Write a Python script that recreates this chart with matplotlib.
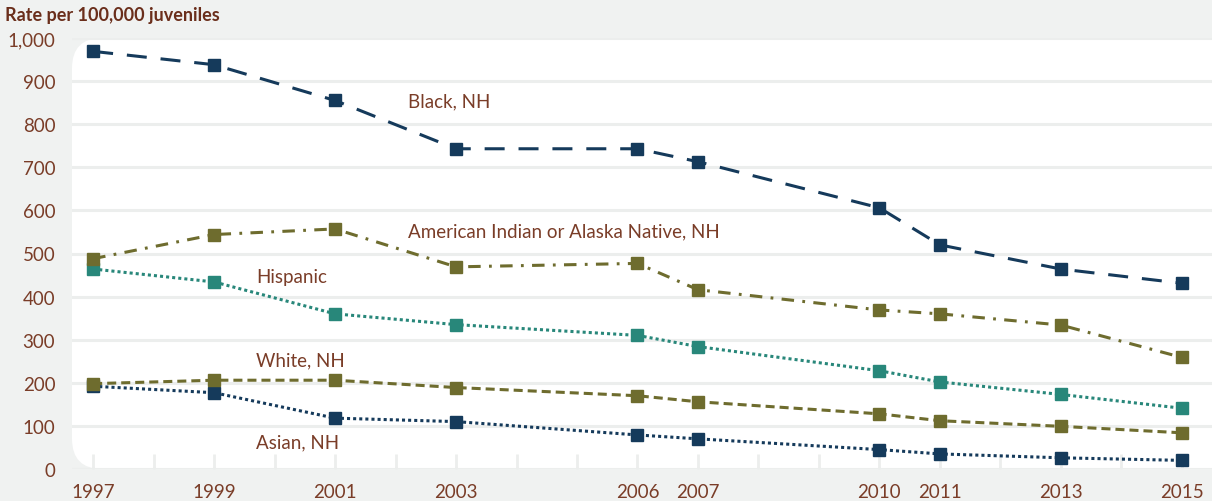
import matplotlib
matplotlib.use("Agg")
import matplotlib.pyplot as plt
from matplotlib.patches import FancyBboxPatch

years = [1997, 1999, 2001, 2003, 2006, 2007, 2010, 2011, 2013, 2015]
black = [969, 938, 855, 743, 743, 713, 606, 520, 464, 431]
aian = [488, 544, 557, 469, 477, 416, 369, 360, 334, 259]
hispanic = [464, 434, 360, 335, 310, 284, 228, 202, 173, 141]
white = [198, 206, 206, 189, 170, 156, 128, 112, 99, 84]
asian = [192, 177, 118, 110, 79, 70, 45, 35, 26, 20]

y_ticks = [0, 100, 200, 300, 400, 500, 600, 700, 800, 900, 1000]
y_ticklabels = ["0", "100", "200", "300", "400", "500", "600", "700", "800", "900", "1,000"]

labels = {
    "Black, NH": (2002.2, 855),
    "American Indian or Alaska Native, NH": (2002.2, 553),
    "Hispanic": (1999.7, 447),
    "White, NH": (1999.7, 254),
    "Asian, NH": (1999.7, 62),
}

NAVY = "#153a5b"
OLIVE = "#6e6c2e"
TEAL = "#28877a"
BROWN = "#7a3d28"
TITLE = "#6a2e1b"
BG = "#f0f2f1"
GRID = "#eceeed"

plt.rcParams["font.family"] = ["Lato", "DejaVu Sans"]
plt.rcParams["lines.scale_dashes"] = False

W, H = 1212, 502
fig = plt.figure(figsize=(W / 100, H / 100), dpi=100, facecolor=BG)

left, right, top, bottom = 72, 1212, 39, 470
ax = fig.add_axes([left / W, 1 - bottom / H, (right - left) / W, (bottom - top) / H])
ax.set_zorder(2)
ax.patch.set_visible(False)
for s in ax.spines.values():
    s.set_visible(False)

# rounded white plot background
bg = FancyBboxPatch((left / W, 1 - bottom / H), (right + 30 - left) / W, (bottom - top) / H,
                    boxstyle="round,pad=0,rounding_size=0.025", transform=fig.transFigure,
                    facecolor="white", edgecolor="none", zorder=0, mutation_aspect=W / H)
fig.patches.append(bg)

ax.set_xlim(1996.65, 2015.5)
ax.set_ylim(0, 1000)

ax.set_yticks(y_ticks)
ax.set_yticklabels(y_ticklabels)
ax.tick_params(axis="y", length=0, pad=12, labelsize=13.5, labelcolor=BROWN)
ax.yaxis.grid(True, color=GRID, linewidth=2.2)
ax.set_axisbelow(True)

all_years = list(range(1997, 2016))
ax.set_xticks(all_years)
ax.set_xticklabels([str(y) if y in years else "" for y in all_years])
ax.tick_params(axis="x", direction="in", length=11, width=2, color=GRID, pad=10,
               labelsize=13.5, labelcolor=BROWN)

lw = 2.2
ms = 9
ax.plot(years, asian, color=NAVY, lw=lw, ls=(0, (2.2, 2.2)), marker="s", ms=ms, zorder=3)
ax.plot(years, white, color=OLIVE, lw=lw, ls=(0, (6.5, 3.6)), marker="s", ms=ms, zorder=3)
ax.plot(years, hispanic, color=TEAL, lw=lw, ls=(0, (2.2, 2.2)), marker="s", ms=ms, zorder=3)
ax.plot(years, aian, color=OLIVE, lw=lw, ls=(0, (9, 6, 2, 6)), marker="s", ms=ms, zorder=3)
ax.plot(years, black, color=NAVY, lw=lw, ls=(0, (14.4, 10)), marker="s", ms=ms, zorder=3)

for txt, (x, y) in labels.items():
    ax.text(x, y, txt, color=BROWN, fontsize=13.5, ha="left", va="center", zorder=4)

fig.text(5 / W, 1 - 16 / H, "Rate per 100,000 juveniles", color=TITLE, fontsize=13,
         fontweight="bold", ha="left", va="center")

fig.savefig("out.png", dpi=100, facecolor=BG)
